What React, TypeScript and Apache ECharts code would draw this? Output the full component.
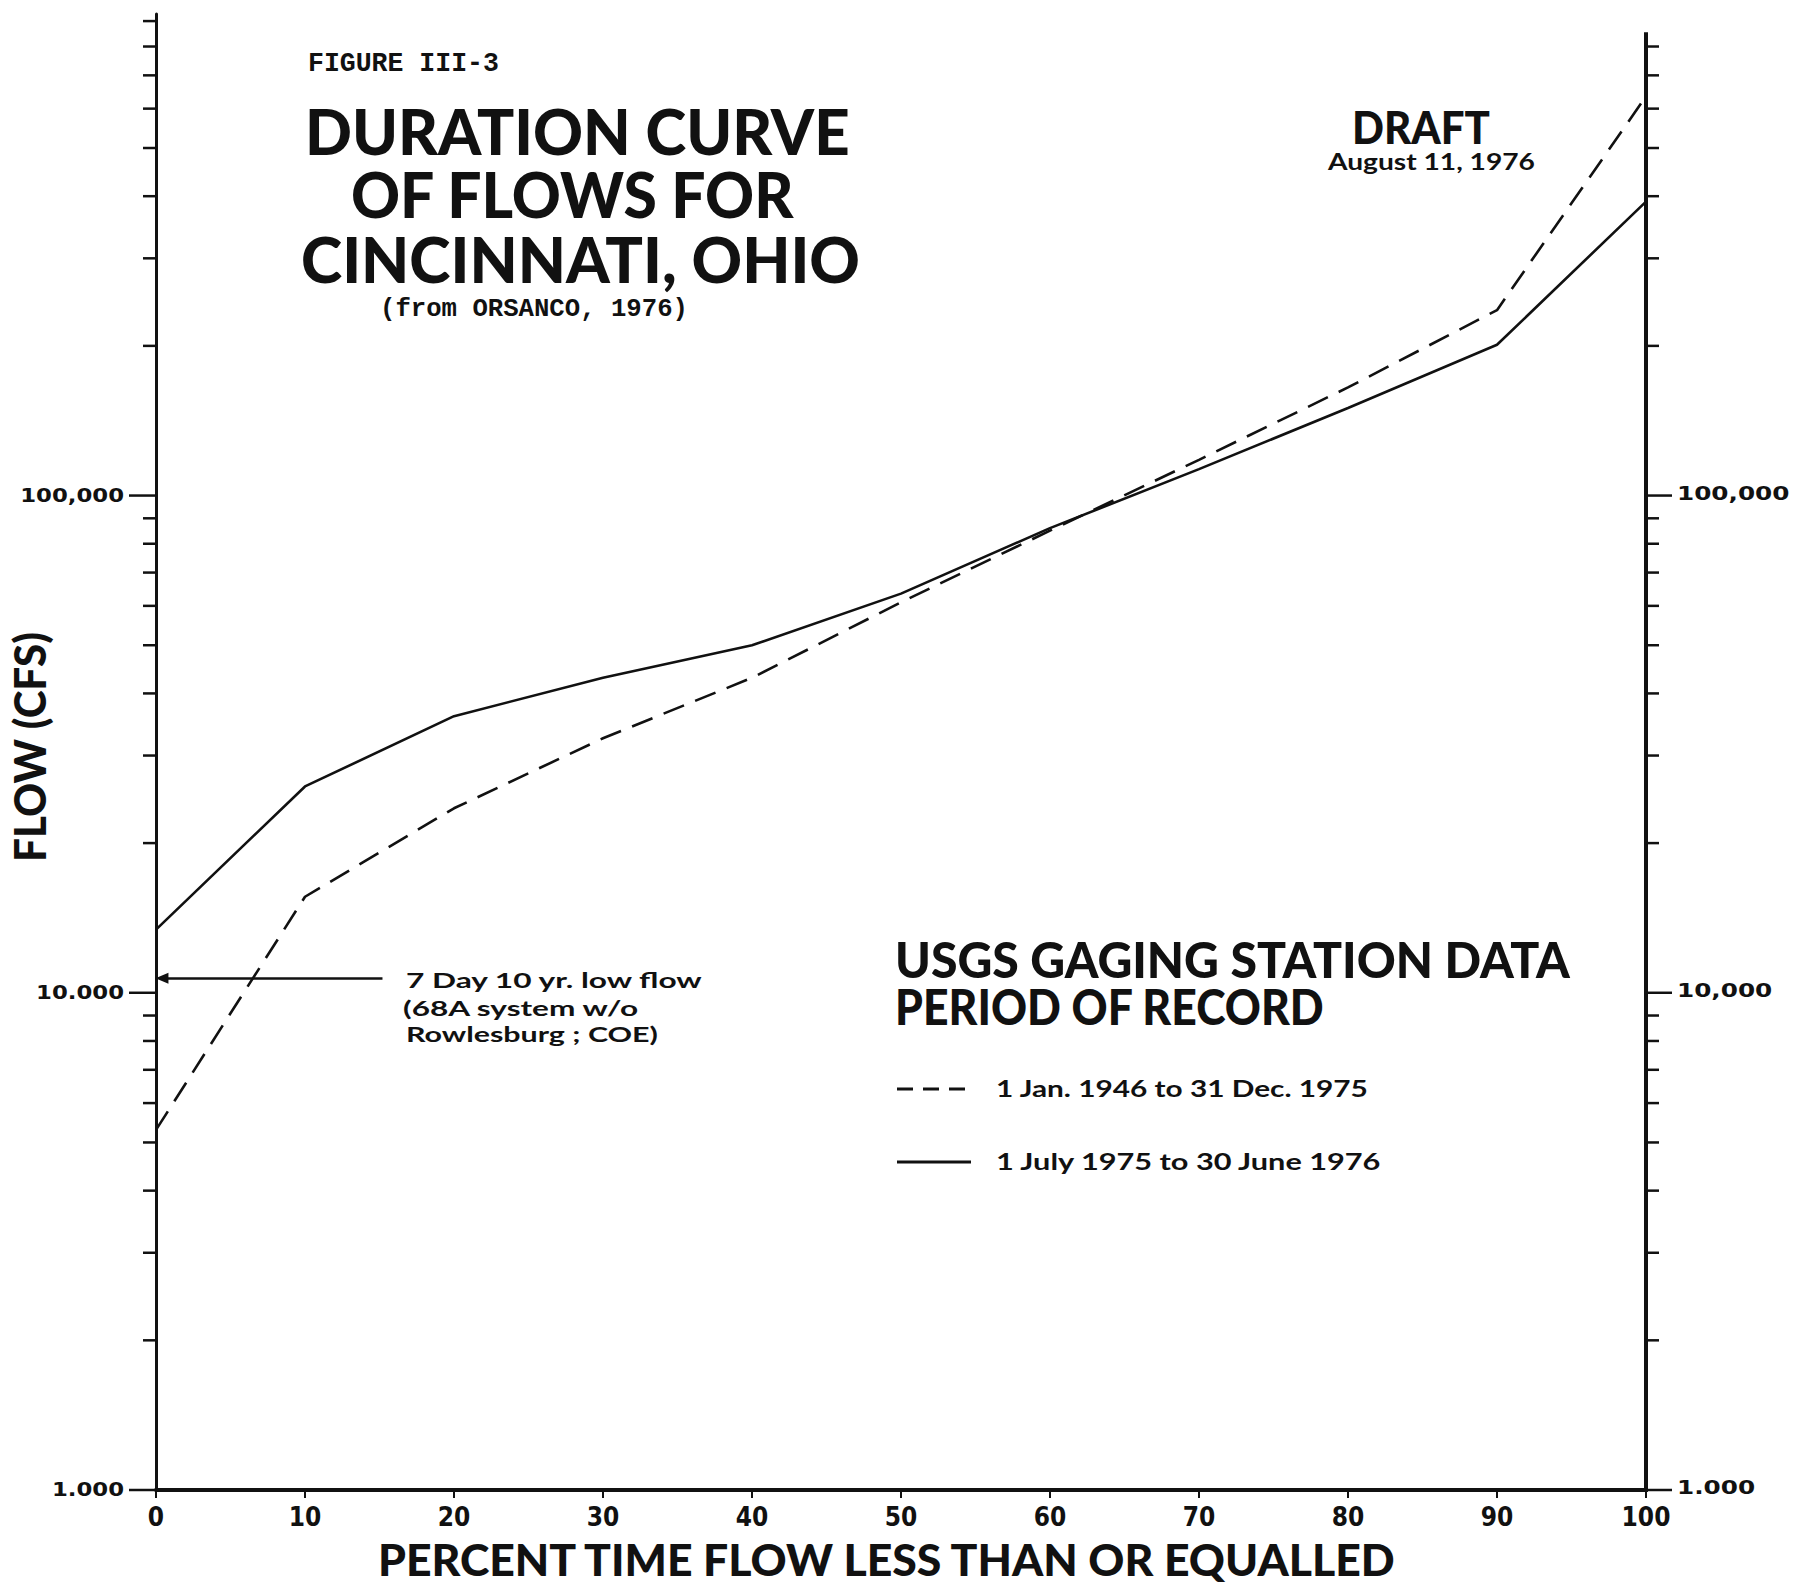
import React, { useEffect, useRef } from "react";
import * as echarts from "echarts";

// ---------------- data ----------------
const PERCENT_TIME = [0, 10, 20, 30, 40, 50, 60, 70, 80, 90, 100];
// 1 Jan. 1946 to 31 Dec. 1975 (dashed)
const FLOW_1946_1975 = [5300, 15600, 23500, 32500, 43000, 61000, 85000, 118000, 165000, 236000, 635000];
// 1 July 1975 to 30 June 1976 (solid)
const FLOW_1975_1976 = [13400, 26000, 36000, 43000, 50000, 63500, 86000, 113000, 150000, 201000, 390000];

const X_TICKS = [0, 10, 20, 30, 40, 50, 60, 70, 80, 90, 100];
const Y_LABEL_VALUES = [1000, 10000, 100000];
const LEFT_Y_LABELS = ["1.000", "10.000", "100,000"];
const RIGHT_Y_LABELS = ["1.000", "10,000", "100,000"];
const MINOR_TICK_VALUES = [
  2000, 3000, 4000, 5000, 6000, 7000, 8000, 9000,
  20000, 30000, 40000, 50000, 60000, 70000, 80000, 90000,
  200000, 300000, 400000, 500000, 600000, 700000, 800000, 900000,
];
const Y_MIN = 1000;
const Y_MAX = 930000;
const RIGHT_AXIS_TOP = 855000;

// 7 Day 10 yr. low flow arrow
const LOW_FLOW_VALUE = 10700;
const LOW_FLOW_ARROW_FROM = 15.2;
const LOW_FLOW_ARROW_TO = 0.4;

const INK = "#111111";

const measureCtx = document.createElement("canvas").getContext("2d")!;
function fitScale(text: string, size: number, family: string, weight: string, width: number) {
  measureCtx.font = `${weight} ${size}px ${family}`;
  const w = measureCtx.measureText(text).width;
  return w > 0 ? width / w : 1;
}

function txt(
  text: string,
  x: number,
  y: number,
  size: number,
  family: string,
  weight: string,
  width: number,
  align: "left" | "center" = "left",
  rotation = 0
) {
  const s = fitScale(text, size, family, weight, width);
  return {
    type: "text",
    x,
    y,
    rotation,
    scaleX: s,
    silent: true,
    style: {
      text,
      fontSize: size,
      fontFamily: family,
      fontWeight: weight,
      fill: INK,
      textAlign: align,
      textVerticalAlign: "middle",
    },
  };
}

const SANS = "Lato";
const MONO = "'Liberation Mono'";
const LABEL_FONT = "'DejaVu Sans'";

export default function App() {
  const ref = useRef<HTMLDivElement>(null);

  useEffect(() => {
    document.body.style.margin = "0";
    const chart = echarts.init(ref.current!, null, { renderer: "svg" });

    const tickData = [
      ...Y_LABEL_VALUES.map((v, i) => [0, v, 1, i]),
      ...MINOR_TICK_VALUES.map((v) => [0, v, 0, -1]),
    ];

    const labelStyle = (text: string, align: "left" | "right") => ({
      text,
      fontSize: 19,
      fontFamily: LABEL_FONT,
      fontWeight: "bold",
      fill: INK,
      textAlign: align,
      textVerticalAlign: "middle",
    });

    const option: any = {
      animation: false,
      backgroundColor: "#ffffff",
      grid: {
        left: 156,
        right: 161,
        top: 14,
        bottom: 96,
        containLabel: false,
        outerBoundsMode: "none",
      },
      xAxis: {
        type: "value",
        min: 0,
        max: 100,
        interval: 10,
        axisLine: { show: true, lineStyle: { color: INK, width: 4 } },
        axisTick: { show: true, length: 8, lineStyle: { color: INK, width: 2 } },
        splitLine: { show: false },
        axisLabel: {
          color: INK,
          fontFamily: "'Liberation Sans Narrow', 'DejaVu Sans Condensed', 'Liberation Sans'",
          fontWeight: "bold",
          fontSize: 26,
          margin: 14,
          formatter: (v: number) => (X_TICKS.includes(Math.round(v)) ? String(Math.round(v)) : ""),
        },
      },
      yAxis: [
        {
          type: "log",
          logBase: 10,
          min: Y_MIN,
          max: Y_MAX,
          position: "left",
          axisLine: { show: true, lineStyle: { color: INK, width: 3 } },
          axisTick: { show: false },
          splitLine: { show: false },
          axisLabel: { show: false },
        },
      ],
      series: [
        {
          type: "line",
          name: "1 Jan. 1946 to 31 Dec. 1975",
          data: PERCENT_TIME.map((x, i) => [x, FLOW_1946_1975[i]]),
          symbol: "none",
          showSymbol: false,
          silent: true,
          lineStyle: { color: INK, width: 2.6, type: [22, 12] },
          z: 3,
        },
        {
          type: "line",
          name: "1 July 1975 to 30 June 1976",
          data: PERCENT_TIME.map((x, i) => [x, FLOW_1975_1976[i]]),
          symbol: "none",
          showSymbol: false,
          silent: true,
          lineStyle: { color: INK, width: 2.6, type: "solid" },
          z: 3,
          markLine: {
            silent: true,
            symbol: ["none", "triangle"],
            symbolSize: [11, 13],
            label: { show: false },
            lineStyle: { color: INK, width: 2.5, type: "solid" },
            itemStyle: { color: INK },
            data: [
              [
                { coord: [LOW_FLOW_ARROW_FROM, LOW_FLOW_VALUE] },
                { coord: [LOW_FLOW_ARROW_TO, LOW_FLOW_VALUE] },
              ],
            ],
          },
        },
        {
          // log-axis ticks and tick labels on both sides
          type: "custom",
          clip: false,
          silent: true,
          data: tickData,
          renderItem: (params: any, api: any) => {
            const v = api.value(1);
            const major = api.value(2) === 1;
            const li = api.value(3);
            const pL = api.coord([0, v]);
            const pR = api.coord([100, v]);
            const len = major ? 27 : 13;
            const children: any[] = [
              {
                type: "line",
                shape: { x1: pL[0] - len, y1: pL[1], x2: pL[0], y2: pL[1] },
                style: { stroke: INK, lineWidth: 2.5 },
              },
            ];
            if (v <= RIGHT_AXIS_TOP) {
              children.push({
                type: "line",
                shape: { x1: pR[0], y1: pR[1], x2: pR[0] + (major ? 26 : 13), y2: pR[1] },
                style: { stroke: INK, lineWidth: 2.5 },
              });
            }
            if (major && li >= 0) {
              children.push({
                type: "text",
                x: pL[0] - 32,
                y: pL[1],
                scaleX: 1.2,
                style: labelStyle(LEFT_Y_LABELS[li], "right"),
              });
              children.push({
                type: "text",
                x: pR[0] + 31,
                y: pR[1] - 2,
                scaleX: 1.3,
                style: labelStyle(RIGHT_Y_LABELS[li], "left"),
              });
            }
            return { type: "group", children };
          },
        },
        {
          // right axis line
          type: "custom",
          clip: false,
          silent: true,
          data: [[100, RIGHT_AXIS_TOP]],
          renderItem: (params: any, api: any) => {
            const top = api.coord([api.value(0), api.value(1)]);
            const bottom = api.coord([api.value(0), Y_MIN]);
            return {
              type: "line",
              shape: { x1: top[0], y1: top[1], x2: bottom[0], y2: bottom[1] + 2 },
              style: { stroke: INK, lineWidth: 4 },
            };
          },
        },
      ],
      graphic: [
        txt("FIGURE III-3", 308, 64, 27, MONO, "bold", 191),
        txt("DURATION CURVE", 305, 131, 62, SANS, "900", 545),
        txt("OF FLOWS FOR", 351, 194, 62, SANS, "900", 444),
        txt("CINCINNATI, OHIO", 301, 259, 62, SANS, "900", 559),
        txt("(from ORSANCO, 1976)", 380, 309, 26, MONO, "bold", 308),
        txt("DRAFT", 1352, 126, 46, SANS, "900", 138),
        txt("August 11, 1976", 1328, 161, 22, SANS, "bold", 207),
        txt("FLOW (CFS)", 29, 747, 44, SANS, "900", 230, "center", Math.PI / 2),
        txt("PERCENT TIME FLOW LESS THAN OR EQUALLED", 378, 1559, 44, SANS, "900", 1021),
        txt("USGS GAGING STATION DATA", 895, 959, 50, SANS, "900", 675),
        txt("PERIOD OF RECORD", 895, 1005, 50, SANS, "900", 430),
        txt("1 Jan. 1946 to 31 Dec. 1975", 996, 1089, 22, SANS, "bold", 373),
        txt("1 July 1975 to 30 June 1976", 996, 1162, 22, SANS, "bold", 387),
        txt("7 Day 10 yr. low flow", 406, 980, 21, SANS, "bold", 298),
        txt("(68A system w/o", 403, 1008, 21, SANS, "bold", 237),
        txt("Rowlesburg ; COE)", 406, 1034, 21, SANS, "bold", 252),
        {
          type: "line",
          silent: true,
          shape: { x1: 897, y1: 1089, x2: 971, y2: 1089 },
          style: { stroke: INK, lineWidth: 3, lineDash: [16, 10] },
        },
        {
          type: "line",
          silent: true,
          shape: { x1: 897, y1: 1162, x2: 971, y2: 1162 },
          style: { stroke: INK, lineWidth: 3 },
        },
      ],
    };

    chart.setOption(option);
    return () => chart.dispose();
  }, []);

  return <div ref={ref} style={{ width: 1807, height: 1586, background: "#ffffff" }} />;
}
